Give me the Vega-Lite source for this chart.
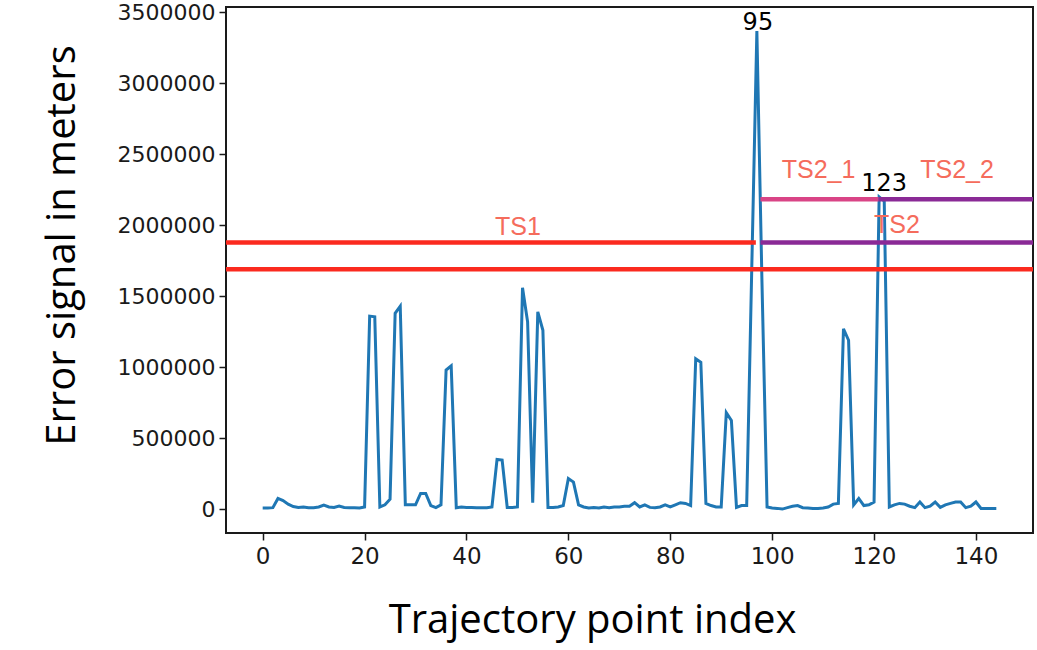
{
  "$schema": "https://vega.github.io/schema/vega-lite/v6.json",
  "width": 807,
  "height": 526,
  "autosize": {"type": "none"},
  "padding": {"left": 226, "top": 7, "right": 4, "bottom": 117},
  "background": "#ffffff",
  "datasets": {
    "err": [
      {"x":0,"y":8000},{"x":1,"y":8000},{"x":2,"y":10000},{"x":3,"y":75000},{"x":4,"y":60000},
      {"x":5,"y":35000},{"x":6,"y":18000},{"x":7,"y":12000},{"x":8,"y":15000},{"x":9,"y":10000},
      {"x":10,"y":10000},{"x":11,"y":15000},{"x":12,"y":28000},{"x":13,"y":15000},{"x":14,"y":12000},
      {"x":15,"y":22000},{"x":16,"y":12000},{"x":17,"y":10000},{"x":18,"y":10000},{"x":19,"y":8000},
      {"x":20,"y":15000},{"x":21,"y":1360000},{"x":22,"y":1355000},{"x":23,"y":15000},{"x":24,"y":30000},
      {"x":25,"y":70000},{"x":26,"y":1380000},{"x":27,"y":1430000},{"x":28,"y":30000},{"x":29,"y":30000},
      {"x":30,"y":30000},{"x":31,"y":110000},{"x":32,"y":110000},{"x":33,"y":25000},{"x":34,"y":10000},
      {"x":35,"y":30000},{"x":36,"y":980000},{"x":37,"y":1010000},{"x":38,"y":10000},{"x":39,"y":15000},
      {"x":40,"y":12000},{"x":41,"y":12000},{"x":42,"y":10000},{"x":43,"y":10000},{"x":44,"y":10000},
      {"x":45,"y":15000},{"x":46,"y":350000},{"x":47,"y":345000},{"x":48,"y":12000},{"x":49,"y":12000},
      {"x":50,"y":15000},{"x":51,"y":1560000},{"x":52,"y":1320000},{"x":53,"y":45000},{"x":54,"y":1390000},
      {"x":55,"y":1260000},{"x":56,"y":12000},{"x":57,"y":12000},{"x":58,"y":15000},{"x":59,"y":25000},
      {"x":60,"y":215000},{"x":61,"y":190000},{"x":62,"y":30000},{"x":63,"y":15000},{"x":64,"y":8000},
      {"x":65,"y":12000},{"x":66,"y":8000},{"x":67,"y":15000},{"x":68,"y":10000},{"x":69,"y":15000},
      {"x":70,"y":15000},{"x":71,"y":20000},{"x":72,"y":20000},{"x":73,"y":45000},{"x":74,"y":15000},
      {"x":75,"y":30000},{"x":76,"y":12000},{"x":77,"y":10000},{"x":78,"y":15000},{"x":79,"y":30000},
      {"x":80,"y":15000},{"x":81,"y":30000},{"x":82,"y":45000},{"x":83,"y":40000},{"x":84,"y":25000},
      {"x":85,"y":1060000},{"x":86,"y":1035000},{"x":87,"y":40000},{"x":88,"y":25000},{"x":89,"y":15000},
      {"x":90,"y":15000},{"x":91,"y":680000},{"x":92,"y":625000},{"x":93,"y":12000},{"x":94,"y":25000},
      {"x":95,"y":25000},{"x":96,"y":1700000},{"x":97,"y":3370000},{"x":98,"y":1600000},{"x":99,"y":15000},
      {"x":100,"y":8000},{"x":101,"y":5000},{"x":102,"y":0},{"x":103,"y":10000},{"x":104,"y":20000},
      {"x":105,"y":25000},{"x":106,"y":10000},{"x":107,"y":8000},{"x":108,"y":5000},{"x":109,"y":5000},
      {"x":110,"y":8000},{"x":111,"y":15000},{"x":112,"y":35000},{"x":113,"y":40000},{"x":114,"y":1270000},
      {"x":115,"y":1190000},{"x":116,"y":30000},{"x":117,"y":75000},{"x":118,"y":25000},{"x":119,"y":30000},
      {"x":120,"y":50000},{"x":121,"y":2200000},{"x":122,"y":2170000},{"x":123,"y":15000},{"x":124,"y":30000},
      {"x":125,"y":40000},{"x":126,"y":35000},{"x":127,"y":20000},{"x":128,"y":10000},{"x":129,"y":50000},
      {"x":130,"y":10000},{"x":131,"y":20000},{"x":132,"y":50000},{"x":133,"y":12000},{"x":134,"y":30000},
      {"x":135,"y":40000},{"x":136,"y":50000},{"x":137,"y":50000},{"x":138,"y":10000},{"x":139,"y":20000},
      {"x":140,"y":50000},{"x":141,"y":5000},{"x":142,"y":5000},{"x":143,"y":5000},{"x":144,"y":5000}
    ],
    "thr": [
      {"x": -7.2, "x2": 151.2, "y": 1690000, "c": "red"},
      {"x": -7.2, "x2": 96.8, "y": 1878000, "c": "red"},
      {"x": 97.7, "x2": 151.2, "y": 1878000, "c": "purple"},
      {"x": 97.7, "x2": 120.9, "y": 2184000, "c": "pink"},
      {"x": 120.9, "x2": 151.2, "y": 2184000, "c": "purple"}
    ],
    "ts": [
      {"x": 50.1, "y": 1930000, "t": "TS1"},
      {"x": 109.1, "y": 2333000, "t": "TS2_1"},
      {"x": 136.3, "y": 2333000, "t": "TS2_2"},
      {"x": 124.5, "y": 1944000, "t": "TS2"}
    ],
    "num": [
      {"x": 97.2, "y": 3378000, "t": "95"},
      {"x": 122.0, "y": 2245000, "t": "123"}
    ]
  },
  "encoding": {
    "x": {
      "field": "x", "type": "quantitative",
      "scale": {"domain": [-7.2, 151.2], "nice": false, "zero": false},
      "axis": {
        "title": "Trajectory point index",
        "values": [0, 20, 40, 60, 80, 100, 120, 140],
        "format": "d",
        "labelOverlap": false,
        "labelFlush": false,
        "labelFontSize": 23,
        "labelPadding": 5,
        "titleX": 366, "titleY": 99,
        "titleAlign": "center", "titleBaseline": "alphabetic"
      }
    },
    "y": {
      "field": "y", "type": "quantitative",
      "scale": {"domain": [-168500, 3538500], "nice": false, "zero": false},
      "axis": {
        "title": "Error signal in meters",
        "values": [0, 500000, 1000000, 1500000, 2000000, 2500000, 3000000, 3500000],
        "format": "d",
        "labelOverlap": false,
        "labelFlush": false,
        "labelFontSize": 22,
        "labelPadding": 4,
        "titleAngle": -90,
        "titleX": -164, "titleY": 238,
        "titleAlign": "center", "titleBaseline": "middle"
      }
    }
  },
  "layer": [
    {
      "data": {"name": "err"},
      "mark": {"type": "line", "color": "#1f77b4", "strokeWidth": 3, "clip": true}
    },
    {
      "data": {"name": "thr"},
      "mark": {"type": "rule", "strokeWidth": 4.5, "clip": true},
      "encoding": {
        "x2": {"field": "x2"},
        "color": {
          "field": "c", "type": "nominal",
          "scale": {"domain": ["red", "pink", "purple"], "range": ["#fb2a1f", "#d94486", "#8a2a96"]},
          "legend": null
        }
      }
    },
    {
      "data": {"name": "ts"},
      "mark": {"type": "text", "font": "Liberation Sans", "fontSize": 25, "color": "#f56c5c", "baseline": "alphabetic", "align": "center"},
      "encoding": {"text": {"field": "t"}}
    },
    {
      "data": {"name": "num"},
      "mark": {"type": "text", "font": "DejaVu Sans", "fontSize": 24, "color": "#000000", "baseline": "alphabetic", "align": "center"},
      "encoding": {"text": {"field": "t"}}
    }
  ],
  "config": {
    "view": {"stroke": "#1a1a1a", "strokeWidth": 2},
    "axis": {
      "domain": false,
      "grid": false,
      "ticks": true,
      "tickColor": "#1a1a1a",
      "tickSize": 7,
      "tickWidth": 1.5,
      "labelFont": "DejaVu Sans",
      "labelColor": "#1a1a1a",
      "titleFont": "Open Sans",
      "titleFontSize": 40,
      "titleFontWeight": "normal",
      "titleColor": "#000000"
    }
  }
}
